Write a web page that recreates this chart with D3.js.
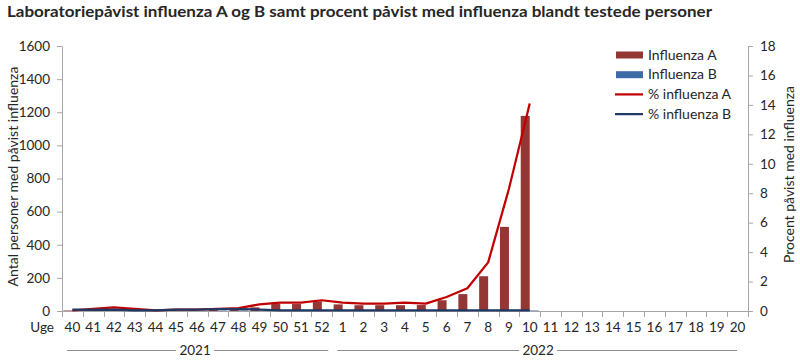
<!DOCTYPE html>
<html>
<head>
<meta charset="utf-8">
<script src="https://cdn.jsdelivr.net/npm/d3@7"></script>
<style>
  body { margin: 0; background: #fff; }
  svg { display: block; font-family: Lato, "Open Sans", sans-serif; }
</style>
</head>
<body>
<svg id="chart" width="800" height="362"></svg>
<script>
const weeks = ["40","41","42","43","44","45","46","47","48","49","50","51","52",
  "1","2","3","4","5","6","7","8","9","10","11","12","13","14","15","16","17","18","19","20"];
const years = [
  { label: "2021", first: "40", last: "52" },
  { label: "2022", first: "1", last: "20" }
];
const influenzaA = [3,4,5,4,3,6,8,10,12,22,42,42,58,40,35,35,35,36,65,102,210,508,1178,
  null,null,null,null,null,null,null,null,null,null];
const influenzaB = [2,1,2,1,1,2,1,2,3,2,1,2,2,1,2,1,2,1,2,1,3,2,3,
  null,null,null,null,null,null,null,null,null,null];
const pctA = [0.05,0.15,0.25,0.15,0.05,0.1,0.1,0.15,0.2,0.45,0.57,0.57,0.73,0.57,0.5,0.5,0.57,0.5,0.95,1.55,3.3,8.3,14.1,
  null,null,null,null,null,null,null,null,null,null];
const pctB = [0.1,0.08,0.1,0.05,0.05,0.1,0.1,0.12,0.12,0.1,0.05,0.05,0.05,0.05,0.05,0.05,0.05,0.05,0.05,0.05,0.05,0.05,0.05,
  null,null,null,null,null,null,null,null,null,null];
const leftTicks = [0,200,400,600,800,1000,1200,1400,1600];
const rightTicks = [0,2,4,6,8,10,12,14,16,18];

const colA = "#943634", colB = "#3d6ba6", colPA = "#c00000", colPB = "#1f3864";
const axisCol = "#a6a6a6", textCol = "#262626";

const svg = d3.select("#chart");
const L = 62, R = 748, T = 46, B = 311;

const x = d3.scaleBand().domain(weeks).range([L, R]).paddingInner(0).paddingOuter(0);
const bw = x.bandwidth();
const x1 = d3.scaleBand().domain(["A","B"]).range([bw*0.067, bw*0.933]).padding(0);
const yL = d3.scaleLinear().domain([0,1600]).range([B, T]);
const yR = d3.scaleLinear().domain([0,18]).range([B, T]);

// Title
svg.append("text").attr("x", 7).attr("y", 17)
  .attr("font-size", 16).attr("font-weight", "bold").attr("fill", textCol)
  .attr("textLength", 705).attr("lengthAdjust", "spacingAndGlyphs")
  .text("Laboratoriepåvist influenza A og B samt procent påvist med influenza blandt testede personer");

// Bars
const rows = weeks.map((w,i) => ({w, a: influenzaA[i], b: influenzaB[i], pa: pctA[i], pb: pctB[i]}));
svg.append("g").selectAll("rect.a").data(rows.filter(d => d.a != null)).join("rect")
  .attr("x", d => x(d.w) + x1("A")).attr("width", x1.bandwidth())
  .attr("y", d => yL(d.a)).attr("height", d => B - yL(d.a)).attr("fill", colA);
svg.append("g").selectAll("rect.b").data(rows.filter(d => d.b != null)).join("rect")
  .attr("x", d => x(d.w) + x1("B")).attr("width", x1.bandwidth())
  .attr("y", d => yL(d.b)).attr("height", d => B - yL(d.b)).attr("fill", colB);

// Axes
const fmt = d3.format("d");
const gl = svg.append("g").attr("transform", `translate(${L},0)`)
  .call(d3.axisLeft(yL).tickValues(leftTicks).tickFormat(fmt).tickSize(5).tickSizeOuter(0).tickPadding(7));
const gr = svg.append("g").attr("transform", `translate(${R},0)`)
  .call(d3.axisRight(yR).tickValues(rightTicks).tickFormat(fmt).tickSize(5).tickSizeOuter(0).tickPadding(7));
[gl, gr].forEach(g => {
  g.select(".domain").attr("stroke", axisCol);
  g.selectAll(".tick line").attr("stroke", axisCol);
  g.selectAll(".tick text").attr("fill", textCol).attr("font-size", 13.5).attr("font-family", "Lato, sans-serif");
});

// X axis line & ticks
svg.append("line").attr("x1", L).attr("x2", R).attr("y1", B+0.5).attr("y2", B+0.5).attr("stroke", axisCol);
const bounds = weeks.map(w => x(w)).concat([x(weeks[weeks.length-1]) + bw]);
svg.append("g").selectAll("line").data(bounds).join("line")
  .attr("x1", d => Math.round(d)+0.5).attr("x2", d => Math.round(d)+0.5)
  .attr("y1", B).attr("y2", B+6).attr("stroke", axisCol);
svg.append("g").selectAll("text").data(weeks).join("text")
  .attr("x", d => x(d) + bw/2).attr("y", 332).attr("text-anchor", "middle")
  .attr("font-size", 13.5).attr("fill", textCol).text(d => d);
svg.append("text").attr("x", 54).attr("y", 332).attr("text-anchor", "end")
  .attr("font-size", 13.5).attr("fill", textCol).text("Uge");

// Year groups
years.forEach((yr, i) => {
  const x0 = x(yr.first) + 5, xe = x(yr.last) + bw - (i === 0 ? 4 : 11);
  const cx = (x(yr.first) + x(yr.last) + bw) / 2 - 2;
  const half = 19;
  svg.append("line").attr("x1", x0).attr("x2", cx - half).attr("y1", 350.5).attr("y2", 350.5).attr("stroke", "#8c8c8c");
  svg.append("line").attr("x1", cx + half).attr("x2", xe).attr("y1", 350.5).attr("y2", 350.5).attr("stroke", "#8c8c8c");
  svg.append("text").attr("x", cx).attr("y", 355).attr("text-anchor", "middle")
    .attr("font-size", 13.5).attr("fill", textCol).text(yr.label);
});

// Lines
const lineA = d3.line().defined(d => d.pa != null).x(d => x(d.w) + bw/2).y(d => yR(d.pa));
const lineB = d3.line().defined(d => d.pb != null).x(d => x(d.w) + bw/2).y(d => yR(d.pb));
svg.append("path").datum(rows).attr("d", lineA).attr("fill", "none").attr("stroke", colPA).attr("stroke-width", 2.25).attr("stroke-linejoin", "round");
svg.append("path").datum(rows).attr("d", lineB).attr("fill", "none").attr("stroke", colPB).attr("stroke-width", 2.25).attr("stroke-linejoin", "round");

// Axis titles
svg.append("text").attr("transform", `translate(18,${(T+B)/2 - 2}) rotate(-90)`).attr("text-anchor", "middle")
  .attr("font-size", 14).attr("fill", textCol).text("Antal personer med påvist influenza");
svg.append("text").attr("transform", `translate(794,${(T+B)/2 - 4}) rotate(-90)`).attr("text-anchor", "middle")
  .attr("font-size", 14).attr("fill", textCol).text("Procent påvist med influenza");

// Legend
const legend = [
  { label: "Influenza A", type: "rect", color: colA },
  { label: "Influenza B", type: "rect", color: colB },
  { label: "% influenza A", type: "line", color: colPA },
  { label: "% influenza B", type: "line", color: colPB }
];
const lg = svg.append("g");
legend.forEach((d, i) => {
  const cy = 55 + i * 19.7;
  if (d.type === "rect") {
    lg.append("rect").attr("x", 616).attr("y", cy - 3.5).attr("width", 27).attr("height", 7).attr("fill", d.color);
  } else {
    lg.append("line").attr("x1", 615).attr("x2", 643).attr("y1", cy).attr("y2", cy).attr("stroke", d.color).attr("stroke-width", 2.25);
  }
  lg.append("text").attr("x", 648).attr("y", cy + 4.5).attr("font-size", 14).attr("fill", textCol).text(d.label);
});
</script>
</body>
</html>
